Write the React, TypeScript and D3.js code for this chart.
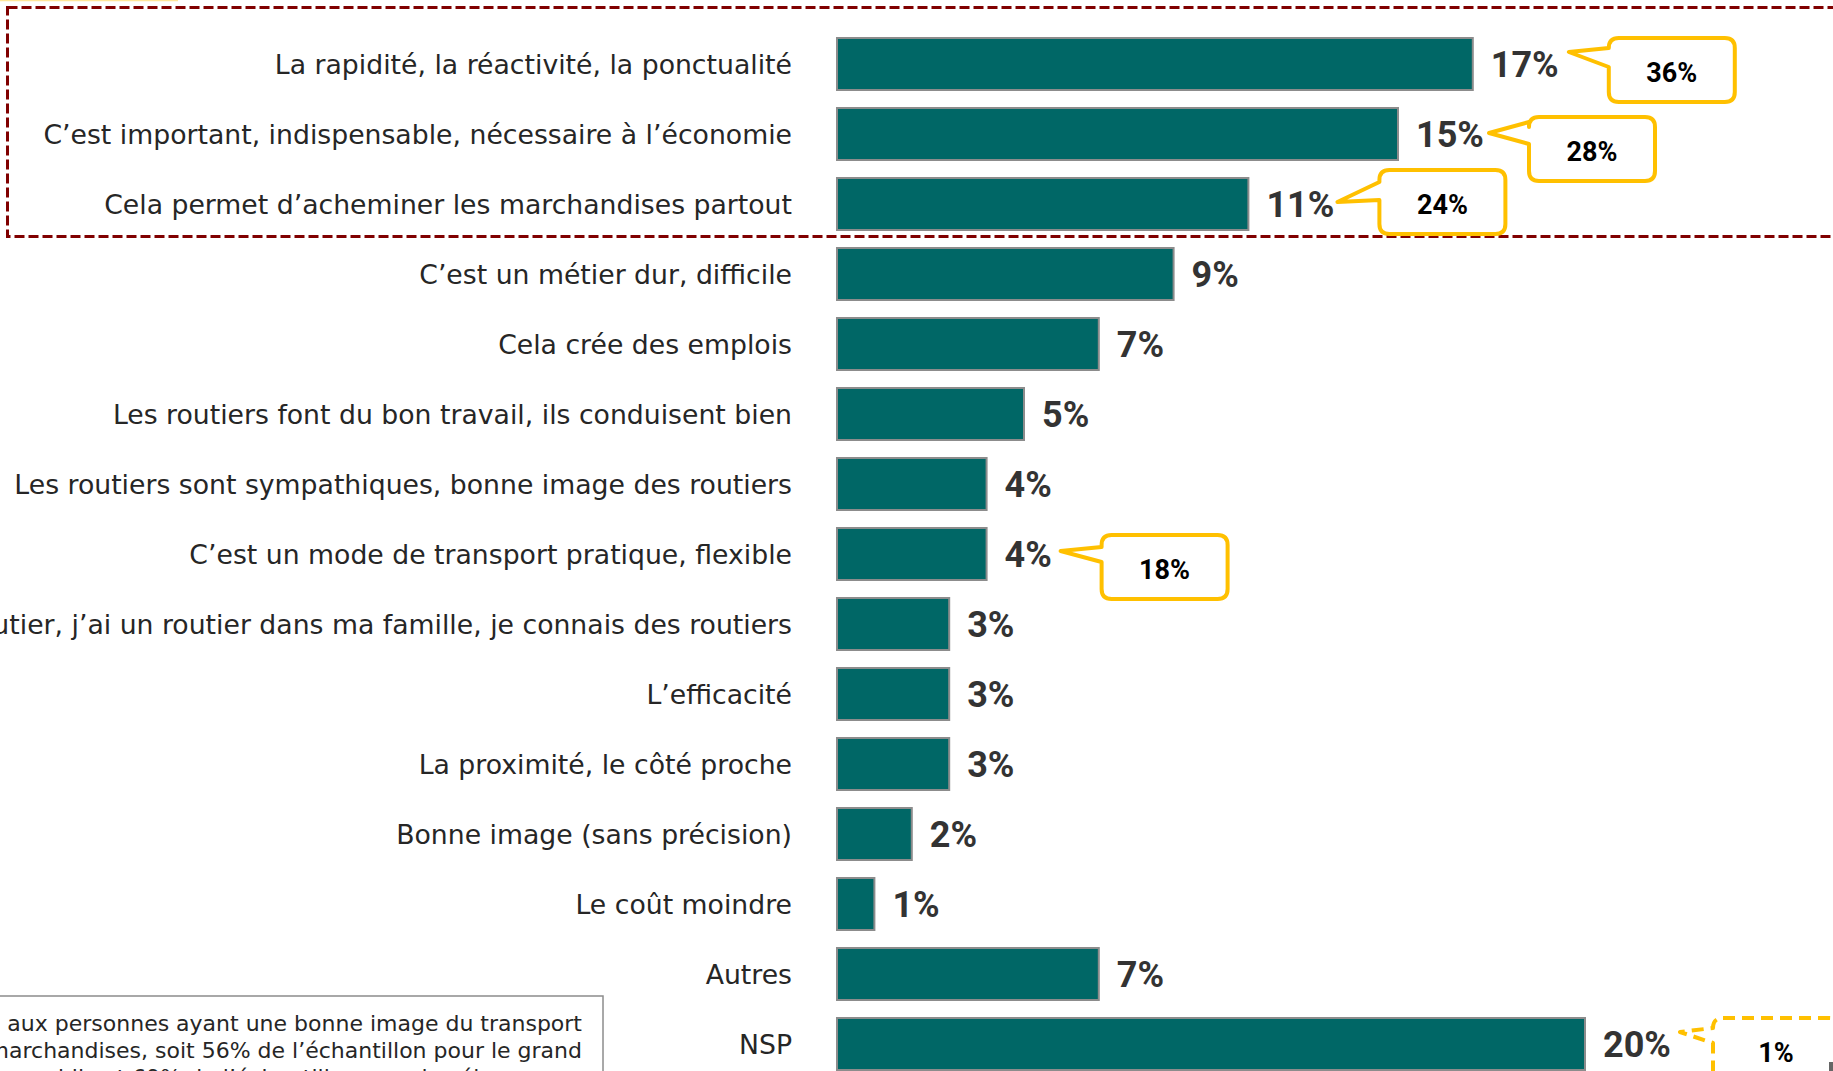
import React from "react";
import * as d3 from "d3";

const categories = [
  "La rapidité, la réactivité, la ponctualité",
  "C’est important, indispensable, nécessaire à l’économie",
  "Cela permet d’acheminer les marchandises partout",
  "C’est un métier dur, difficile",
  "Cela crée des emplois",
  "Les routiers font du bon travail, ils conduisent bien",
  "Les routiers sont sympathiques, bonne image des routiers",
  "C’est un mode de transport pratique, flexible",
  "Je suis routier, j’ai un routier dans ma famille, je connais des routiers",
  "L’efficacité",
  "La proximité, le côté proche",
  "Bonne image (sans précision)",
  "Le coût moindre",
  "Autres",
  "NSP",
];
const values = [17, 15, 11, 9, 7, 5, 4, 4, 3, 3, 3, 2, 1, 7, 20];

// comparison callouts: row index + value
const calloutRows = [0, 1, 2, 7, 14];
const calloutValues = [36, 28, 24, 18, 1];
const calloutDashed = [false, false, false, false, true];

const noteLines = [
  "Question posée aux personnes ayant une bonne image du transport",
  "routier de marchandises, soit 56% de l’échantillon pour le grand",
  "public et 69% de l’échantillon pour les élus",
];

const W = 1833;
const H = 1071;
const LABEL_FONT = "'DejaVu Sans', Verdana, sans-serif";
const VALUE_FONT = "Roboto, 'Liberation Sans', sans-serif";

// callout geometry (offsets relative to value-label tip / row)
const calloutLayout = [
  { tipDx: 96, tipDy: -12, boxDx: 40, boxDy: -14, b1: 10, b2: 29 },
  { tipDx: 91, tipDy: -1, boxDx: 40, boxDy: -16, b1: 5, b2: 27 },
  { tipDx: 89, tipDy: -2, boxDx: 42, boxDy: -32, b1: 12, b2: 30 },
  { tipDx: 74, tipDy: -3, boxDx: 41, boxDy: -16, b1: 12, b2: 27 },
  { tipDx: 95, tipDy: -12, boxDx: 33, boxDy: -14, b1: 10, b2: 25 },
];

function calloutPath(x0: number, y0: number, w: number, h: number, r: number, tx: number, ty: number, b1: number, b2: number) {
  const x1 = x0 + w;
  const y1 = y0 + h;
  return [
    `M${x0 + r},${y0}`,
    `H${x1 - r}`,
    `Q${x1},${y0} ${x1},${y0 + r}`,
    `V${y1 - r}`,
    `Q${x1},${y1} ${x1 - r},${y1}`,
    `H${x0 + r}`,
    `Q${x0},${y1} ${x0},${y1 - r}`,
    `V${y0 + b2}`,
    `L${tx},${ty}`,
    `L${x0},${y0 + b1}`,
    `V${y0 + r}`,
    `Q${x0},${y0} ${x0 + r},${y0}`,
    "Z",
  ].join(" ");
}

export default function App() {
  const x = d3.scaleLinear().domain([0, 20]).range([837, 1585]);
  const y = d3
    .scaleBand<string>()
    .domain(categories)
    .range([29, 29 + 70 * categories.length])
    .paddingInner(0.2571)
    .paddingOuter(0.12855);
  const bw = y.bandwidth();

  return (
    <div style={{ position: "absolute", left: 0, top: 0 }}>
      <svg width={W} height={H} style={{ display: "block" }}>
        <rect x={0} y={0} width={W} height={H} fill="#ffffff" />
        <line x1={0} x2={178} y1={0.5} y2={0.5} stroke="#FFE699" strokeWidth={1.5} />

        {/* dashed highlight frame */}
        <rect
          x={7.5}
          y={7.5}
          width={1840}
          height={229}
          fill="none"
          stroke="#800000"
          strokeWidth={3}
          strokeDasharray="10 4"
        />

        {/* category labels */}
        {categories.map((c) => (
          <text
            key={c}
            x={792}
            y={(y(c) as number) + bw / 2}
            textAnchor="end"
            dominantBaseline="central"
            fontFamily={LABEL_FONT}
            fontSize={26.7}
            fill="#262626"
          >
            {c}
          </text>
        ))}

        {/* bars */}
        {categories.map((c, i) => (
          <rect
            key={"b" + c}
            x={x(0)}
            y={y(c) as number}
            width={x(values[i]) - x(0)}
            height={bw}
            fill="#006766"
            stroke="#8c8c8c"
            strokeWidth={2}
          />
        ))}

        {/* value labels */}
        {categories.map((c, i) => (
          <text
            key={"v" + c}
            x={x(values[i]) + 18}
            y={(y(c) as number) + bw / 2 + 1}
            dominantBaseline="central"
            fontFamily={VALUE_FONT}
            fontWeight={700}
            fontSize={36}
            fill="#333333"
          >
            {values[i]}%
          </text>
        ))}

        {/* callouts */}
        {calloutRows.map((row, k) => {
          const L = calloutLayout[k];
          const c = categories[row];
          const cy = (y(c) as number) + bw / 2;
          const tx = x(values[row]) + L.tipDx;
          const ty = cy + L.tipDy;
          const bx = tx + L.boxDx;
          const by = ty + L.boxDy;
          const bwid = 126;
          const bh = 64;
          return (
            <g key={"c" + k}>
              <path
                d={calloutPath(bx, by, bwid, bh, 10, tx, ty, L.b1, L.b2)}
                fill="#ffffff"
                stroke="#FFC000"
                strokeWidth={4}
                strokeLinejoin="round"
                strokeDasharray={calloutDashed[k] ? "12 7" : undefined}
              />
              <text
                x={bx + bwid / 2}
                y={by + bh / 2 + 3}
                textAnchor="middle"
                dominantBaseline="central"
                fontFamily={VALUE_FONT}
                fontWeight={700}
                fontSize={27}
                fill="#000000"
              >
                {calloutValues[k]}%
              </text>
            </g>
          );
        })}

        {/* note box */}
        <rect x={-10} y={996} width={613} height={100} fill="#ffffff" stroke="#8c8c8c" strokeWidth={1.5} />
        {noteLines.map((t, i) => (
          <text
            key={"n" + i}
            x={i < 2 ? 582 : 30}
            y={1031 + i * 27}
            textAnchor={i < 2 ? "end" : "start"}
            fontFamily={LABEL_FONT}
            fontSize={22}
            fill="#262626"
          >
            {t}
          </text>
        ))}

        <rect x={1829} y={1062} width={4} height={9} fill="#666666" />
      </svg>
    </div>
  );
}
